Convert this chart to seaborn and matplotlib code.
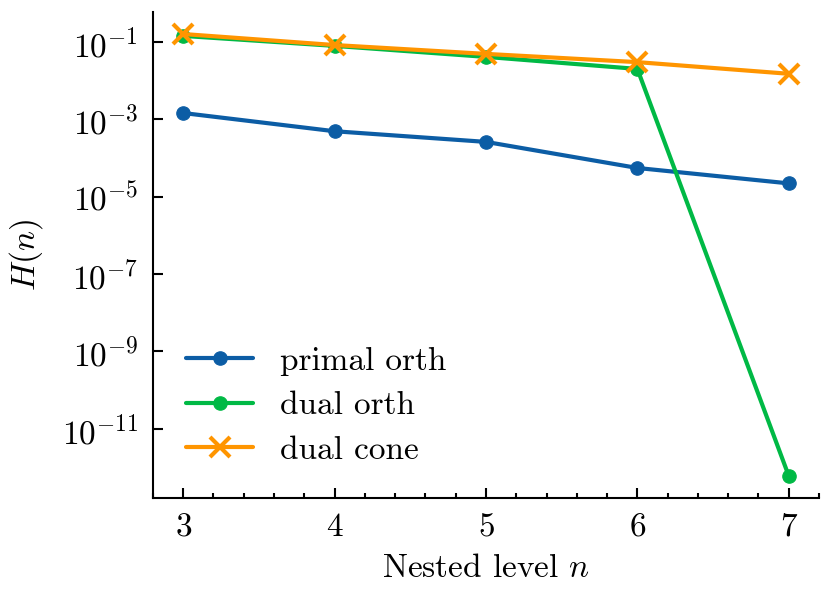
import numpy as np
import pandas as pd
import matplotlib
matplotlib.use("Agg")
import matplotlib.pyplot as plt
import seaborn as sns
from matplotlib.ticker import AutoMinorLocator, NullLocator

levels = [3, 4, 5, 6, 7]
primal_orth = [1.45e-3, 4.9e-4, 2.6e-4, 5.5e-5, 2.2e-5]
dual_orth = [0.143, 0.079, 0.041, 0.020, 6.0e-13]
dual_cone = [0.16, 0.083, 0.049, 0.030, 0.015]

series_names = ["primal orth", "dual orth", "dual cone"]
series_colors = ["#0C5DA5", "#00B945", "#FF9500"]
series_markers = ["o", "o", "x"]
y_ticks = [1e-1, 1e-3, 1e-5, 1e-7, 1e-9, 1e-11]

sns.set_style("ticks")
plt.rcParams.update({
    "font.family": "serif",
    "font.serif": ["cmr10"],
    "mathtext.fontset": "cm",
    "axes.formatter.use_mathtext": True,
    "axes.unicode_minus": False,
    "font.size": 8,
    "text.color": "black",
    "axes.labelcolor": "black",
    "axes.edgecolor": "black",
    "xtick.color": "black",
    "ytick.color": "black",
    "axes.linewidth": 0.5,
    "xtick.direction": "in",
    "ytick.direction": "in",
    "xtick.major.size": 2.5,
    "ytick.major.size": 2.5,
    "xtick.minor.size": 1.2,
    "xtick.major.width": 0.5,
    "ytick.major.width": 0.5,
    "xtick.minor.width": 0.5,
})

fig = plt.figure(figsize=(831 / 300, 596 / 300), dpi=300)
ax = fig.add_axes([0.184, 0.1644, 0.8016, 0.8156])

for name, vals, col, mk in zip(series_names, [primal_orth, dual_orth, dual_cone],
                               series_colors, series_markers):
    sns.lineplot(x=levels, y=vals, ax=ax, color=col, marker=mk, label=name,
                 linewidth=1.0, markersize=3.2 if mk == "o" else 4.8,
                 markeredgecolor=col, markerfacecolor=col,
                 markeredgewidth=0.3 if mk == "o" else 1.0)

ax.set_yscale("log")
ax.set_yticks(y_ticks)
ax.yaxis.set_minor_locator(NullLocator())
ax.set_xticks(levels)
ax.xaxis.set_minor_locator(AutoMinorLocator(5))
ax.set_xlabel("Nested level $n$", labelpad=3)
ax.set_ylabel("$H(n)$", labelpad=4)
sns.despine(ax=ax)
ax.legend(loc="lower left", frameon=False, handlelength=2.0,
          labelspacing=0.45, borderaxespad=0.6)

fig.savefig("out.png", dpi=300)
print("done!")
